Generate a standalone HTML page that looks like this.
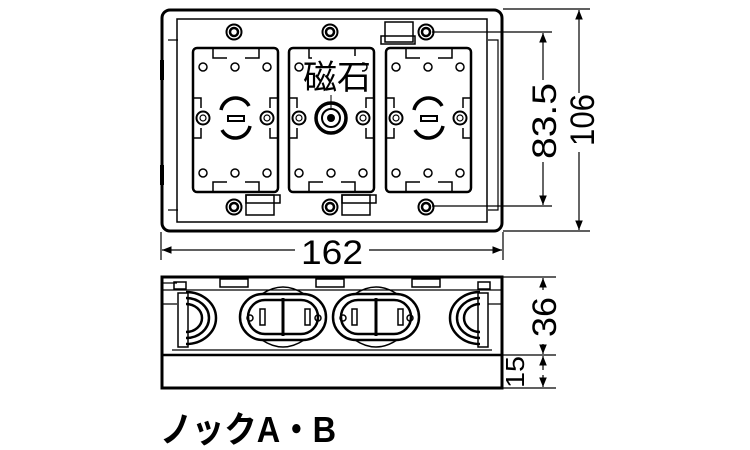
<!DOCTYPE html>
<html><head><meta charset="utf-8"><style>
html,body{margin:0;padding:0;background:#fff;width:750px;height:450px;overflow:hidden}
svg{display:block}
text{font-family:"Liberation Sans","Noto Sans CJK JP",sans-serif;fill:#000}
</style></head><body>
<svg width="750" height="450" viewBox="0 0 750 450" xmlns="http://www.w3.org/2000/svg">
<defs>
<marker id="a" viewBox="0 0 10 10" refX="10" refY="5" markerWidth="8" markerHeight="8" orient="auto-start-reverse"><path d="M0,1 L10,5 L0,9 Z" fill="#000"/></marker>
<g id="mod" fill="none" stroke="#000" stroke-width="2">
<rect x="0" y="0" width="85" height="144" rx="4" stroke-width="2.5"/>
<path d="M20,0 v10 h14 M52,10 h14 v-10 M20,144 v-10 h14 M52,134 h14 v10" stroke-width="1.5"/>
<circle cx="10" cy="19" r="4" stroke-width="1.5"/><circle cx="42" cy="19" r="4" stroke-width="1.5"/><circle cx="74" cy="19" r="4" stroke-width="1.5"/>
<circle cx="10" cy="125" r="4" stroke-width="1.5"/><circle cx="42" cy="125" r="4" stroke-width="1.5"/><circle cx="74" cy="125" r="4" stroke-width="1.5"/>
<circle cx="10" cy="70" r="6.5"/><circle cx="10" cy="70" r="3" stroke-width="1.2"/>
<circle cx="74" cy="70" r="6.5"/><circle cx="74" cy="70" r="3" stroke-width="1.2"/>
<path d="M0,50 h8 v10 M0,90 h8 v-10 M85,50 h-8 v10 M85,90 h-8 v-10" stroke-width="1.5"/>
</g>
<g id="screw"><circle r="7.5" fill="none" stroke="#000" stroke-width="2"/><circle r="4" fill="none" stroke="#000" stroke-width="2.5"/></g>
</defs>

<!-- top view -->
<rect x="162" y="10" width="340" height="221" rx="8" fill="none" stroke="#000" stroke-width="3"/>
<rect x="177" y="19" width="310" height="203" fill="none" stroke="#000" stroke-width="1.5"/>
<path d="M168,40 h10 M168,210 h10 M488,40 h10 v170 h-10" fill="none" stroke="#000" stroke-width="1.2"/>
<path d="M162,60 v20 M162,165 v20" stroke="#000" stroke-width="4"/>
<use href="#mod" x="193" y="48"/>
<use href="#mod" x="289" y="48"/>
<use href="#mod" x="386" y="48"/>
<g fill="none" stroke="#000" stroke-width="3.5">
<path d="M221,110 a15,15 0 0 1 28,-4 M250,126 a15,15 0 0 1 -28,4"/>
<rect x="228" y="116" width="16" height="5" stroke-width="2"/>
<path d="M414,110 a15,15 0 0 1 28,-4 M443,126 a15,15 0 0 1 -28,4"/>
<rect x="421" y="116" width="16" height="5" stroke-width="2"/>
<circle cx="331" cy="118" r="15"/>
<circle cx="331" cy="118" r="9" stroke-width="2"/>
</g>
<circle cx="331" cy="118" r="4" fill="#000"/>
<line x1="331" y1="95" x2="331" y2="108" stroke="#000" stroke-width="1"/>
<rect x="312" y="56" width="50" height="38" fill="#fff"/>
<text x="337" y="89" font-size="34" text-anchor="middle">磁石</text>
<use href="#screw" x="234" y="32"/><use href="#screw" x="330" y="32"/><use href="#screw" x="426" y="32"/>
<use href="#screw" x="234" y="207"/><use href="#screw" x="330" y="207"/><use href="#screw" x="426" y="207"/>
<g fill="none" stroke="#000" stroke-width="1.5">
<rect x="385" y="22" width="28" height="20"/><rect x="381" y="36" width="34" height="8"/>
<rect x="246" y="195" width="28" height="20"/><rect x="246" y="195" width="34" height="8"/>
<rect x="342" y="195" width="28" height="20"/><rect x="342" y="195" width="34" height="8"/>
</g>

<!-- dims top -->
<g stroke="#000" stroke-width="1.2" fill="none">
<line x1="503" y1="9" x2="590" y2="9"/><line x1="503" y1="231" x2="590" y2="231"/>
<line x1="432" y1="32" x2="552" y2="32"/><line x1="432" y1="206" x2="552" y2="206"/>
<line x1="579" y1="93" x2="579" y2="10" marker-end="url(#a)"/>
<line x1="579" y1="152" x2="579" y2="230" marker-end="url(#a)"/>
<line x1="543" y1="80" x2="543" y2="33" marker-end="url(#a)"/>
<line x1="543" y1="162" x2="543" y2="205" marker-end="url(#a)"/>
<line x1="161" y1="232" x2="161" y2="260"/><line x1="503" y1="232" x2="503" y2="260"/>
<line x1="295" y1="250" x2="162" y2="250" marker-end="url(#a)"/>
<line x1="369" y1="250" x2="502" y2="250" marker-end="url(#a)"/>
</g>
<text transform="translate(594,120) rotate(-90)" font-size="34" text-anchor="middle" textLength="52" lengthAdjust="spacingAndGlyphs">106</text>
<text transform="translate(556,121) rotate(-90)" font-size="34" text-anchor="middle" textLength="76" lengthAdjust="spacingAndGlyphs">83.5</text>
<text x="332" y="264" font-size="34" text-anchor="middle" textLength="62" lengthAdjust="spacingAndGlyphs">162</text>

<!-- side view -->
<rect x="162" y="277" width="340" height="111" fill="none" stroke="#000" stroke-width="3"/>
<line x1="162" y1="355" x2="502" y2="355" stroke="#000" stroke-width="2.5"/>
<path d="M172,350 h320" stroke="#000" stroke-width="1.2" fill="none"/>
<path d="M162,283 h15 M162,290 h340 M162,304 h15 M488,304 h14" stroke="#000" stroke-width="1.2"/>
<g fill="none" stroke="#000" stroke-width="1.5">
<rect x="174" y="282" width="12" height="7"/><rect x="478" y="282" width="12" height="7"/>
<rect x="220" y="279" width="28" height="8"/><rect x="316" y="279" width="28" height="8"/><rect x="412" y="279" width="28" height="8"/>
<rect x="178" y="293" width="10" height="54"/><rect x="478" y="293" width="10" height="54"/>
<path d="M186,292 a30,26 0 0 1 0,52 M186,298 a23,20 0 0 1 0,40 M186,304 a16,14 0 0 1 0,28" stroke-width="2.5"/>
<path d="M480,292 a30,26 0 0 0 0,52 M480,298 a23,20 0 0 0 0,40 M480,304 a16,14 0 0 0 0,28" stroke-width="2.5"/>
<path d="M240,317 a23,23 0 0 1 23,-23 h40 a23,23 0 0 1 23,23 a23,23 0 0 1 -23,23 h-40 a23,23 0 0 1 -23,-23 Z" stroke-width="2.5"/>
<path d="M248,317 a17,17 0 0 1 17,-17 h36 a17,17 0 0 1 17,17 a17,17 0 0 1 -17,17 h-36 a17,17 0 0 1 -17,-17 Z" stroke-width="2.5"/>
<path d="M333,317 a23,23 0 0 1 23,-23 h40 a23,23 0 0 1 23,23 a23,23 0 0 1 -23,23 h-40 a23,23 0 0 1 -23,-23 Z" stroke-width="2.5"/>
<path d="M341,317 a17,17 0 0 1 17,-17 h36 a17,17 0 0 1 17,17 a17,17 0 0 1 -17,17 h-36 a17,17 0 0 1 -17,-17 Z" stroke-width="2.5"/>
<line x1="283" y1="298" x2="283" y2="336" stroke-width="3"/><line x1="376" y1="298" x2="376" y2="336" stroke-width="3"/>
<path d="M262,294 q21,-14 42,0 M262,340 q21,14 42,0 M355,294 q21,-14 42,0 M355,340 q21,14 42,0"/>
<rect x="260" y="309" width="5" height="16"/><rect x="305" y="309" width="5" height="16"/>
<rect x="352" y="309" width="5" height="16"/><rect x="398" y="309" width="5" height="16"/>
<circle cx="250" cy="318" r="3"/><circle cx="318" cy="318" r="3"/><circle cx="343" cy="318" r="3"/><circle cx="410" cy="318" r="3"/>
</g>

<!-- side dims -->
<g stroke="#000" stroke-width="1.2" fill="none">
<line x1="503" y1="277" x2="556" y2="277"/><line x1="503" y1="355" x2="556" y2="355"/><line x1="503" y1="388" x2="556" y2="388"/>
<line x1="543" y1="290" x2="543" y2="278" marker-end="url(#a)"/>
<line x1="543" y1="344" x2="543" y2="354" marker-end="url(#a)"/>
<line x1="543" y1="370" x2="543" y2="356" marker-end="url(#a)"/>
<line x1="543" y1="375" x2="543" y2="387" marker-end="url(#a)"/>
</g>
<text transform="translate(556,317) rotate(-90)" font-size="34" text-anchor="middle" textLength="40" lengthAdjust="spacingAndGlyphs">36</text>
<text transform="translate(524,372) rotate(-90)" font-size="26" text-anchor="middle" textLength="32" lengthAdjust="spacingAndGlyphs">15</text>

<text x="160" y="442" font-size="36" font-weight="bold" textLength="176" lengthAdjust="spacingAndGlyphs">ノックA・B</text>
</svg>
</body></html>
